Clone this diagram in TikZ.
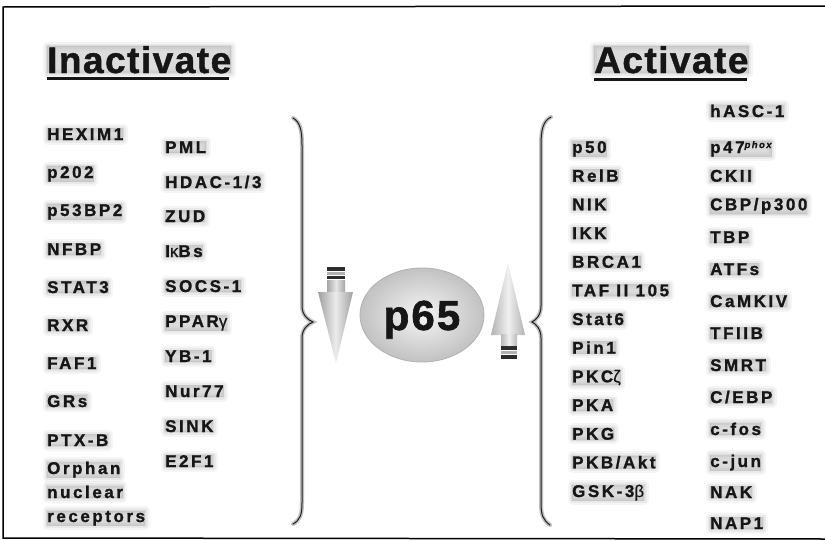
\documentclass[tikz,border=0pt]{standalone}
\usepackage{fontspec}
\setmainfont{Liberation Sans}
\newfontfamily\labfont{Liberation Sans Bold}[LetterSpace=15,FakeBold=1.2]
\newfontfamily\titfont{Liberation Sans Bold}[LetterSpace=4,FakeBold=1.2]
\newfontfamily\pfont{Liberation Sans Bold}[LetterSpace=5,FakeBold=1.5]
\newfontfamily\grkfont{Liberation Sans}[FakeBold=0.6]
\usetikzlibrary{calc,shapes.geometric}
\definecolor{ink}{HTML}{161616}
\begin{document}
\begin{tikzpicture}[x=1pt,y=-1pt,
  glow/.style={
    preaction={draw=gray!70,fill=gray!70,line width=9pt,opacity=0.10,line join=round},
    preaction={draw=gray!70,fill=gray!70,line width=5pt,opacity=0.14,line join=round},
    preaction={draw=gray!70,fill=gray!70,line width=1.5pt,opacity=0.18,line join=round}},
  lab/.style={anchor=base west,inner sep=0pt,text=ink,glow,
    font=\labfont\fontsize{17}{19}\selectfont},
  tit/.style={anchor=base west,inner sep=0pt,text=ink,glow,
    font=\titfont\fontsize{37}{40}\selectfont},
  bracehalo/.style={draw=gray!50,line width=4pt,line cap=round},
  bracecore/.style={draw=gray!25!black,line width=1pt,line cap=round},
  darkbar/.style={fill=gray!35!black},
  midbar/.style={fill=gray!60}
]
\useasboundingbox (0,0) rectangle (825,541);
\fill[white] (0,0) rectangle (825,541);
% frame
\draw[line width=1.5pt] (826,6) -- (3,7) -- (3,538) -- (826,539);

% titles
\node[tit] (tin) at (47,73) {Inactivate};
\draw[line width=3pt,ink] ($(tin.base west)+(0,5.5)$) -- ($(tin.base east)+(-2,5.5)$);
\node[tit] (tact) at (594,73) {Activate};
\draw[line width=3pt,ink] ($(tact.base west)+(0,6)$) -- ($(tact.base east)+(-2,6)$);

% inactivate column 1
\node[lab] (i1) at (47,140) {HEXIM1};
\node[lab] (i2) at (47,178) {p202};
\node[lab] (i3) at (47,216) {p53BP2};
\node[lab] (i4) at (47,255) {NFBP};
\node[lab] (i5) at (47,293) {STAT3};
\node[lab] (i6) at (47,331) {RXR};
\node[lab] (i7) at (47,369) {FAF1};
\node[lab] (i8) at (47,407) {GRs};
\node[lab] (i9) at (47,446) {PTX-B};
\node[lab] (i10) at (47,474) {Orphan};
\node[lab] (i11) at (47,498) {nuclear};
\node[lab] (i12) at (47,522) {receptors};
% inactivate column 2
\node[lab] (j1) at (165,153) {PML};
\node[lab] (j2) at (165,188) {HDAC-1/3};
\node[lab] (j3) at (165,222) {ZUD};
\node[lab] (j4) at (165,257) {I{\grkfont κ}Bs};
\node[lab] (j5) at (165,292) {SOCS-1};
\node[lab] (j6) at (165,327) {PPAR{\grkfont γ}};
\node[lab] (j7) at (165,362) {YB-1};
\node[lab] (j8) at (165,397) {Nur77};
\node[lab] (j9) at (165,432) {SINK};
\node[lab] (j10) at (165,467) {E2F1};

% activate column 1
\node[lab] (k1) at (572,153) {p50};
\node[lab] (k2) at (572,181.7) {RelB};
\node[lab] (k3) at (572,210.3) {NIK};
\node[lab] (k4) at (572,239) {IKK};
\node[lab] (k5) at (572,267.7) {BRCA1};
\node[lab] (k6) at (572,296.3) {TAF II 105};
\node[lab] (k7) at (572,325) {Stat6};
\node[lab] (k8) at (572,353.7) {Pin1};
\node[lab] (k9) at (572,382.3) {PKC{\grkfont ζ}};
\node[lab] (k10) at (572,411) {PKA};
\node[lab] (k11) at (572,439.7) {PKG};
\node[lab] (k12) at (572,468.3) {PKB/Akt};
\node[lab] (k13) at (572,497) {GSK-3{\grkfont β}};
% activate column 2
\node[lab] (m1) at (710,117) {hASC-1};
\node[lab] (m2) at (710,153) {p47\raisebox{5pt}{\fontsize{9.5}{9.5}\selectfont\itshape phox}};
\node[lab] (m3) at (710,181.7) {CKII};
\node[lab] (m4) at (710,210.3) {CBP/p300};
\node[lab] (m5) at (710,243) {TBP};
\node[lab] (m6) at (710,275) {ATFs};
\node[lab] (m7) at (710,307) {CaMKIV};
\node[lab] (m8) at (710,339) {TFIIB};
\node[lab] (m9) at (710,371) {SMRT};
\node[lab] (m10) at (710,403) {C/EBP};
\node[lab] (m11) at (710,435) {c-fos};
\node[lab] (m12) at (710,467) {c-jun};
\node[lab] (m13) at (710,498) {NAK};
\node[lab] (m14) at (710,529) {NAP1};

% left brace "}"
\foreach \s in {bracehalo,bracecore}{
  \draw[\s] (293,118) .. controls (300,122) and (302,130) .. (302,145)
    -- (302,306) .. controls (302,315) and (308,320) .. (313,322)
    .. controls (308,324) and (302,329) .. (302,338)
    -- (302,503) .. controls (302,515) and (300,520) .. (293,524);
}
% right brace "{"
\foreach \s in {bracehalo,bracecore}{
  \draw[\s] (551,117) .. controls (543,121) and (541,130) .. (541,145)
    -- (541,306) .. controls (541,315) and (536,320) .. (532,322)
    .. controls (536,324) and (541,329) .. (541,338)
    -- (541,503) .. controls (541,515) and (543,520) .. (550,525);
}

% down arrow (inactivate)
\fill[darkbar] (327,267) rectangle (345,270.5);
\fill[midbar] (327,271.5) rectangle (345,274.5);
\fill[darkbar] (327,275.5) rectangle (345,279);
\shade[left color=gray!70,right color=gray!70,middle color=gray!20] (327,280.5) rectangle (345,292.5);
\shade[left color=gray!75,right color=gray!75,middle color=gray!15] (318,292) -- (353,292) -- (336,363) -- cycle;

% up arrow (activate)
\shade[left color=gray!60,right color=gray!60,middle color=gray!12] (491,335) -- (508,263) -- (525,335) -- cycle;
\shade[left color=gray!55,right color=gray!55,middle color=gray!12] (501,334.5) rectangle (517,345);
\fill[darkbar] (501,346) rectangle (517,350);
\fill[midbar] (501,351) rectangle (517,354);
\fill[darkbar] (501,355) rectangle (517,359);

% p65
\node[ellipse,minimum width=124pt,minimum height=94pt,inner sep=0pt,
  draw=gray!60,line width=0.8pt,inner color=gray!8,outer color=gray!48,
  text=ink,text height=30pt,text depth=0pt,
  font=\pfont\fontsize{42}{44}\selectfont] (p65) at (422,315) {p65};
\end{tikzpicture}
\end{document}
